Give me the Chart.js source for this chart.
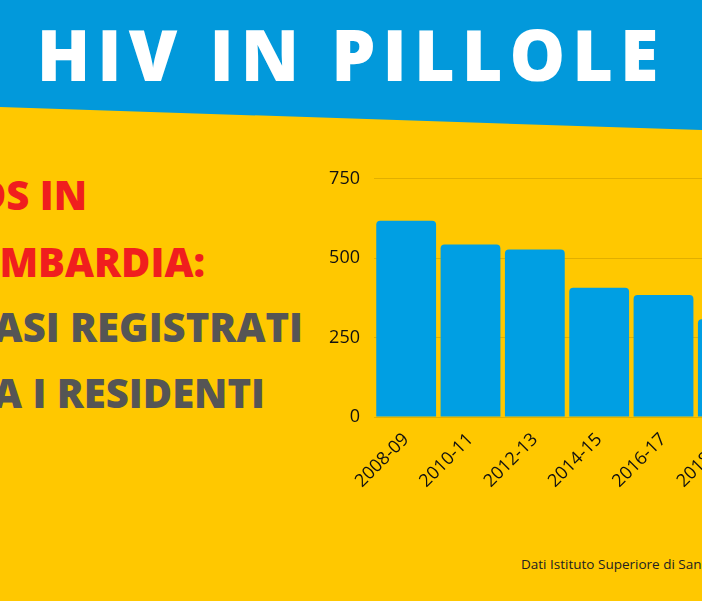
<!DOCTYPE html>
<html>
<head>
<meta charset="utf-8">
<script src="https://cdn.jsdelivr.net/npm/chart.js@4"></script>
<style>
  html, body { margin:0; padding:0; width:702px; height:601px; overflow:hidden; background:#FFC800; font-family:'Open Sans', sans-serif; }
  #banner { position:absolute; left:0; top:0; width:702px; height:135px; background:#0299DB;
            clip-path: polygon(0 0, 100% 0, 100% 130px, 0 107px); }
  #title { position:absolute; left:0; top:4px; width:702px; text-align:center; color:#fff;
           font-family:'Open Sans', sans-serif; font-weight:800; font-size:70px; letter-spacing:7px; line-height:100px; }
  .lt { position:absolute; font-weight:800; font-size:40px; white-space:nowrap; line-height:41px; text-align:right; }
  .red { color:#F01E1E; }
  .gray { color:#555555; }
  #foot { position:absolute; left:521px; top:555px; font-size:13.5px; color:#222; white-space:nowrap; }
  #wrap { position:absolute; left:307px; top:154px; width:453px; height:363px; }
</style>
</head>
<body>
<div id="banner"></div>
<div id="title">HIV IN PILLOLE</div>
<div class="lt red" style="right:615px;top:174px">AIDS IN</div>
<div class="lt red" style="right:497px;top:241px">LOMBARDIA:</div>
<div class="lt gray" style="right:399px;top:306px">CASI REGISTRATI</div>
<div class="lt gray" style="right:437px;top:372px">TRA I RESIDENTI</div>
<div id="foot">Dati Istituto Superiore di Sanità</div>
<div id="wrap"><canvas id="c"></canvas></div>
<script>
const periods = ['2008-09', '2010-11', '2012-13', '2014-15', '2016-17', '2018-19'];
const cases = [618, 543, 527, 407, 384, 308];
const yTicks = [0, 250, 500, 750];

new Chart(document.getElementById('c'), {
    type: 'bar',
    data: {
        labels: periods,
        datasets: [{
            data: cases,
            backgroundColor: '#009FE3',
            borderRadius: 4,
            borderSkipped: 'bottom',
            categoryPercentage: 1,
            barPercentage: 0.93
        }]
    },
    options: {
        responsive: true,
        maintainAspectRatio: false,
        animation: false,
        layout: { padding: { top: 10, right: 0, left: 0, bottom: 0 } },
        plugins: { legend: { display: false }, tooltip: { enabled: false } },
        scales: {
            y: {
                min: 0, max: 750,
                afterFit: (s) => { s.width = 67; },
                afterBuildTicks: (s) => { s.ticks = yTicks.map(v => ({ value: v })); },
                ticks: { color: '#111', font: { family: 'Open Sans', size: 18 }, padding: 14 },
                grid: { color: 'rgba(170,130,0,0.35)', drawTicks: false },
                border: { display: false }
            },
            x: {
                afterFit: (s) => { s.height = 100; },
                ticks: { color: '#111', font: { family: 'Open Sans', size: 18 }, maxRotation: 45, minRotation: 45, padding: 4 },
                grid: { display: false },
                border: { display: false }
            }
        }
    }
});
</script>
</body>
</html>
